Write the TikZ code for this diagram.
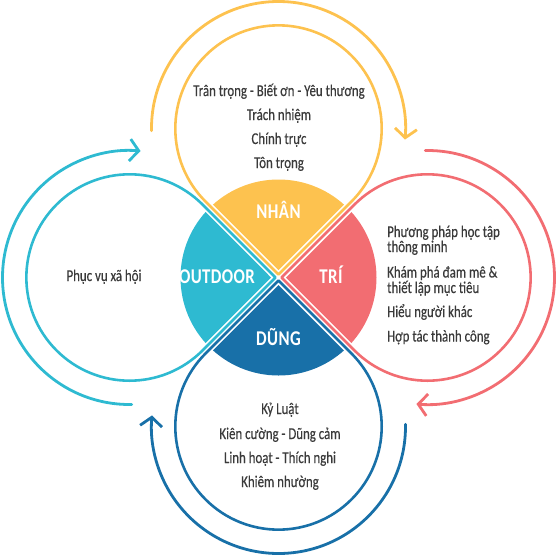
\documentclass[tikz,border=0pt]{standalone}
\usepackage{fontspec}
\setmainfont{Carlito}
\newfontfamily\bodyfont{Carlito}[FakeStretch=0.78,FakeBold=0.35]
\newfontfamily\headfont{Carlito}[FakeStretch=0.8,LetterSpace=2]
\usepackage{tikz}
\usetikzlibrary{calc,arrows.meta}
\definecolor{nhan}{HTML}{FDC24F}
\definecolor{tri}{HTML}{F26D72}
\definecolor{dung}{HTML}{1870A8}
\definecolor{outdoor}{HTML}{2EBAD1}
\definecolor{ink}{HTML}{3A3A3A}

\begin{document}
\begin{tikzpicture}[x=1pt,y=1pt,
		petal/.style={draw,line width=2.6pt,line join=round},
		ring/.style={line width=2.8pt,line cap=round,line join=round,-{Straight Barb[length=9pt,width=22pt]}},
		itemtext/.style={font=\bodyfont\fontsize{16.5}{18}\selectfont,text=ink,inner sep=0pt},
		headtext/.style={font=\headfont\bfseries\fontsize{21}{23}\selectfont,text=white,inner sep=0pt,anchor=base}]
		\useasboundingbox (0,0) rectangle (557,-555);
		\coordinate (C) at (278.5,-277.5);
		% centres of the four big circles
		\coordinate (Cn) at ($(C)+(90:149)$);
		\coordinate (Ct) at ($(C)+(0:149)$);
		\coordinate (Cd) at ($(C)+(270:149)$);
		\coordinate (Co) at ($(C)+(180:149)$);
		
		% drop shaped outlines, tip at the centre
		\draw [petal,nhan] ($(C)+(90:3)$) -- ++(135:103.2) arc[start angle=225,end angle=-45,radius=103.2] -- cycle;
		\draw [petal,tri] ($(C)+(0:3)$) -- ++(45:103.2) arc[start angle=135,end angle=-135,radius=103.2] -- cycle;
		\draw [petal,dung] ($(C)+(270:3)$) -- ++(315:103.2) arc[start angle=45,end angle=-225,radius=103.2] -- cycle;
		\draw [petal,outdoor] ($(C)+(180:3)$) -- ++(225:103.2) arc[start angle=315,end angle=45,radius=103.2] -- cycle;
		
		% coloured quarters of the middle disc
		\begin{scope}
			\clip (C) circle (98);
			\fill [nhan] ($(C)+(90:7.5)$) -- ++(135:200) -- ++(0:283) -- cycle;
			\fill [tri] ($(C)+(0:7.5)$) -- ++(45:200) -- ++(270:283) -- cycle;
			\fill [dung] ($(C)+(270:7.5)$) -- ++(315:200) -- ++(180:283) -- cycle;
			\fill [outdoor] ($(C)+(180:7.5)$) -- ++(225:200) -- ++(90:283) -- cycle;
		\end{scope}
		
		% arrows round the circles
		\draw [ring,nhan] ($(Cn)+(181:127)$) arc[start angle=181,end angle=-5,radius=127];
		\draw [ring,tri] ($(Ct)+(91:127)$) arc[start angle=91,end angle=-95,radius=127];
		\draw [ring,dung] ($(Cd)+(1:127)$) arc[start angle=1,end angle=-185,radius=127];
		\draw [ring,outdoor] ($(Co)+(271:127)$) arc[start angle=271,end angle=85,radius=127];
		
		\node [headtext] (nhanhead) at (278.5,-218.3) {NHÂN};
		\node [headtext] (trihead) at (331,-283.3) {TRÍ};
		\node [headtext] (dunghead) at (278.5,-345.7) {DŨNG};
		\node [headtext] (outhead) at (217,-283.3) {OUTDOOR};
		
		\node [itemtext,anchor=base] (n1) at (279,-96) {Trân trọng - Biết ơn - Yêu thương};
		\node [itemtext,anchor=base] (n2) at (279,-120) {Trách nhiệm};
		\node [itemtext,anchor=base] (n3) at (279,-144) {Chính trực};
		\node [itemtext,anchor=base] (n4) at (279,-168) {Tôn trọng};
		
		\node [itemtext,anchor=base west] (t1) at (387,-237) {Phương pháp học tập};
		\node [itemtext,anchor=base west] (t2) at (387,-252) {thông minh};
		\node [itemtext,anchor=base west] (t3) at (387,-277.5) {Khám phá đam mê \&};
		\node [itemtext,anchor=base west] (t4) at (387,-293) {thiết lập mục tiêu};
		\node [itemtext,anchor=base west] (t5) at (387,-317) {Hiểu người khác};
		\node [itemtext,anchor=base west] (t6) at (387,-341.5) {Hợp tác thành công};
		
		\node [itemtext,anchor=base] (o1) at (104,-281) {Phục vụ xã hội};
		
		\node [itemtext,anchor=base] (d1) at (280,-414) {Kỷ Luật};
		\node [itemtext,anchor=base] (d2) at (280,-439) {Kiên cường - Dũng cảm};
		\node [itemtext,anchor=base] (d3) at (280,-463) {Linh hoạt - Thích nghi};
		\node [itemtext,anchor=base] (d4) at (280,-487) {Khiêm nhường};
\end{tikzpicture}
\end{document}
